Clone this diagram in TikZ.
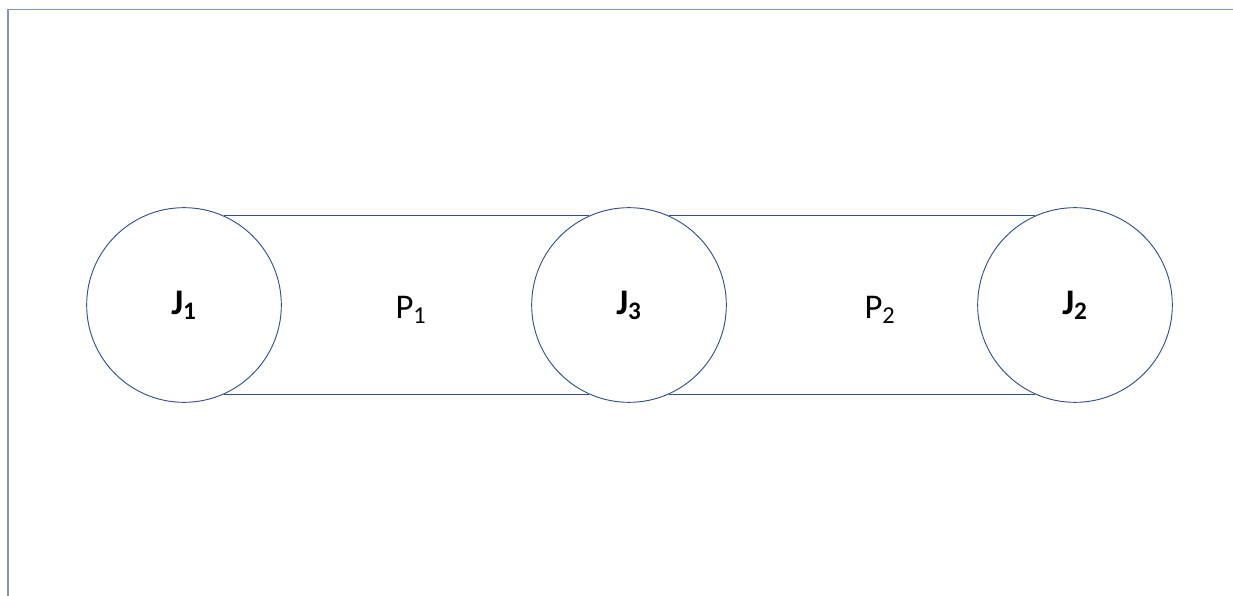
\documentclass[tikz,border=0pt]{standalone}
\usepackage{fontspec}
\setmainfont{Carlito}
\definecolor{jointblue}{HTML}{2F528F}
\definecolor{framegray}{HTML}{8497C0}

\begin{document}
\begin{tikzpicture}[x=0.75pt,y=-0.75pt,
  joint/.style={circle,draw=jointblue,line width=0.7pt,inner sep=0pt,minimum size=146pt,font=\fontsize{27}{30}\selectfont\bfseries},
  link/.style={draw=jointblue,line width=0.7pt},
  plabel/.style={font=\fontsize{26}{30}\selectfont}]
\useasboundingbox (0,0) rectangle (1233,596);
% frame edges
\draw[framegray,line width=1.4pt] (8,596) -- (8,9.5) -- (1233,9.5);
% joints
\node[joint] (J1) at (184,305) {J\textsubscript{1}};
\node[joint] (J3) at (629,305) {J\textsubscript{3}};
\node[joint] (J2) at (1075,305) {J\textsubscript{2}};
% links between joints
\draw[link] (J1.66) -- (J3.114);
\draw[link] (J1.-66) -- (J3.-114);
\draw[link] (J3.66) -- (J2.114);
\draw[link] (J3.-66) -- (J2.-114);
\node[plabel] (P1) at (411,310) {P\textsubscript{1}};
\node[plabel] (P2) at (880,310) {P\textsubscript{2}};
\end{tikzpicture}
\end{document}
